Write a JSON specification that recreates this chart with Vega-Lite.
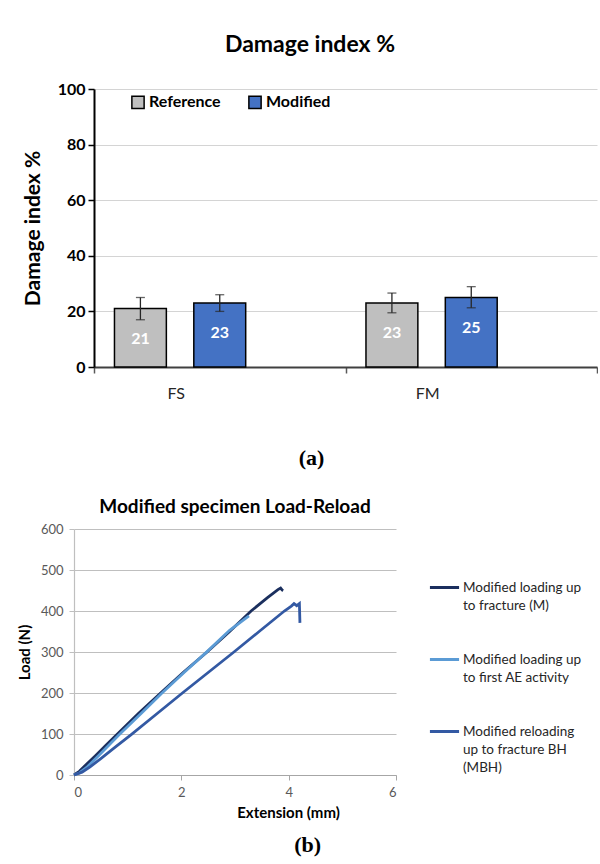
{
  "$schema": "https://vega.github.io/schema/vega-lite/v6.json",
  "background": "white",
  "padding": {"left": 17, "top": 34, "right": 0, "bottom": 4},
  "spacing": 30,
  "columns": 1,
  "title": {"text": "(b)", "orient": "bottom", "anchor": "middle", "font": "Liberation Serif", "fontSize": 22, "fontWeight": "bold", "color": "black", "offset": 15},
  "resolve": {"scale": {"color": "independent"}, "legend": {"color": "independent"}},
  "concat": [
    {
      "width": 523,
      "height": 278,
      "title": {"text": "Damage index %", "font": "Lato", "fontSize": 23, "fontWeight": "bold", "color": "black", "offset": 24, "anchor": "middle", "frame": "bounds"},
      "data": {"values": [
        {"cat": "FS", "series": "Reference", "value": 21, "lo": 17, "hi": 25},
        {"cat": "FS", "series": "Modified", "value": 23, "lo": 20, "hi": 26},
        {"cat": "FM", "series": "Reference", "value": 23, "lo": 19.5, "hi": 26.6},
        {"cat": "FM", "series": "Modified", "value": 25, "lo": 21.3, "hi": 28.9}
      ]},
      "encoding": {
        "x": {"field": "cat", "type": "nominal", "sort": ["FS", "FM"],
              "scale": {"paddingInner": 0, "paddingOuter": 0, "range": [20, 523]},
              "axis": {"title": "(a)", "titleFont": "Liberation Serif", "titleFontSize": 22, "titleFontWeight": "bold", "titleColor": "black", "titlePadding": 46, "titleX": 237,
                       "labelAngle": 0, "labelFont": "Lato", "labelFontSize": 16, "labelColor": "#262626", "labelPadding": 12, "labelOffset": -44,
                       "tickBand": "extent", "tickSize": 6, "tickColor": "#595959", "tickWidth": 1.5,
                       "domainColor": "#404040", "domainWidth": 2}},
        "xOffset": {"field": "series", "type": "nominal", "scale": {"domain": ["Reference", "Modified", "_"], "paddingInner": 0.346, "paddingOuter": 0.258}}
      },
      "layer": [
        {
          "mark": {"type": "bar", "stroke": "black", "strokeWidth": 1.5},
          "encoding": {
            "y": {"field": "value", "type": "quantitative", "scale": {"domain": [0, 100]},
                  "axis": {"offset": -20, "values": [0, 20, 40, 60, 80, 100], "title": "Damage index %", "titleFont": "Lato", "titleFontSize": 21, "titleFontWeight": "bold", "titleColor": "black", "titlePadding": 14,
                           "labelFont": "Lato", "labelFontSize": 16, "labelFontWeight": "bold", "labelColor": "black", "labelPadding": 3,
                           "tickSize": 6, "tickColor": "black", "tickWidth": 1.5, "domainColor": "black", "domainWidth": 2,
                           "grid": true, "gridColor": "#D4D4D4", "gridWidth": 1}},
            "color": {"field": "series", "type": "nominal",
                      "scale": {"domain": ["Reference", "Modified"], "range": ["#BFBFBF", "#4472C4"]},
                      "legend": {"title": null, "orient": "none", "legendX": 56, "legendY": 5, "direction": "horizontal",
                                 "symbolType": "square", "symbolSize": 150, "symbolStrokeColor": "black", "symbolStrokeWidth": 1.5,
                                 "labelFont": "Lato", "labelFontSize": 16, "labelFontWeight": "bold", "labelColor": "black", "labelOffset": 3, "columnPadding": 24}}
          }
        },
        {
          "mark": {"type": "rule", "color": "#262626", "strokeWidth": 1.3},
          "encoding": {
            "y": {"field": "lo", "type": "quantitative"},
            "y2": {"field": "hi"}
          }
        },
        {
          "mark": {"type": "tick", "color": "#262626", "thickness": 1.3, "size": 9},
          "encoding": {"y": {"field": "lo", "type": "quantitative"}}
        },
        {
          "mark": {"type": "tick", "color": "#262626", "thickness": 1.3, "size": 9},
          "encoding": {"y": {"field": "hi", "type": "quantitative"}}
        },
        {
          "mark": {"type": "text", "color": "white", "font": "Lato", "fontSize": 16, "fontWeight": "bold", "baseline": "middle", "dy": 30},
          "encoding": {
            "y": {"field": "value", "type": "quantitative"},
            "text": {"field": "value", "type": "quantitative"}
          }
        }
      ]
    },
    {
      "width": 322,
      "height": 246,
      "title": {"text": "Modified specimen Load-Reload", "font": "Lato", "fontSize": 19, "fontWeight": "bold", "color": "black", "offset": 6, "anchor": "middle"},
      "data": {"values": [
        {"series": "Modified loading up|to fracture (M)", "i": 0, "ext": 0, "load": 0},
        {"series": "Modified loading up|to fracture (M)", "i": 1, "ext": 0.1, "load": 9},
        {"series": "Modified loading up|to fracture (M)", "i": 2, "ext": 0.2, "load": 22},
        {"series": "Modified loading up|to fracture (M)", "i": 3, "ext": 0.4, "load": 47},
        {"series": "Modified loading up|to fracture (M)", "i": 4, "ext": 0.6, "load": 73},
        {"series": "Modified loading up|to fracture (M)", "i": 5, "ext": 0.8, "load": 99},
        {"series": "Modified loading up|to fracture (M)", "i": 6, "ext": 1.2, "load": 150},
        {"series": "Modified loading up|to fracture (M)", "i": 7, "ext": 1.64, "load": 203},
        {"series": "Modified loading up|to fracture (M)", "i": 8, "ext": 2.05, "load": 252},
        {"series": "Modified loading up|to fracture (M)", "i": 9, "ext": 2.48, "load": 300},
        {"series": "Modified loading up|to fracture (M)", "i": 10, "ext": 2.9, "load": 350},
        {"series": "Modified loading up|to fracture (M)", "i": 11, "ext": 3.3, "load": 400},
        {"series": "Modified loading up|to fracture (M)", "i": 12, "ext": 3.6, "load": 432},
        {"series": "Modified loading up|to fracture (M)", "i": 13, "ext": 3.8, "load": 452},
        {"series": "Modified loading up|to fracture (M)", "i": 14, "ext": 3.85, "load": 456},
        {"series": "Modified loading up|to fracture (M)", "i": 15, "ext": 3.88, "load": 451},
        {"series": "Modified loading up|to fracture (M)", "i": 16, "ext": 3.9, "load": 450},
        {"series": "Modified loading up|to first AE activity", "i": 0, "ext": 0, "load": 0},
        {"series": "Modified loading up|to first AE activity", "i": 1, "ext": 0.1, "load": 5},
        {"series": "Modified loading up|to first AE activity", "i": 2, "ext": 0.25, "load": 20},
        {"series": "Modified loading up|to first AE activity", "i": 3, "ext": 0.47, "load": 49},
        {"series": "Modified loading up|to first AE activity", "i": 4, "ext": 0.84, "load": 98},
        {"series": "Modified loading up|to first AE activity", "i": 5, "ext": 1.25, "load": 150},
        {"series": "Modified loading up|to first AE activity", "i": 6, "ext": 1.64, "load": 200},
        {"series": "Modified loading up|to first AE activity", "i": 7, "ext": 2.05, "load": 250},
        {"series": "Modified loading up|to first AE activity", "i": 8, "ext": 2.48, "load": 301},
        {"series": "Modified loading up|to first AE activity", "i": 9, "ext": 2.9, "load": 353},
        {"series": "Modified loading up|to first AE activity", "i": 10, "ext": 3.26, "load": 388},
        {"series": "Modified reloading|up to fracture BH|(MBH)", "i": 0, "ext": 0, "load": 0},
        {"series": "Modified reloading|up to fracture BH|(MBH)", "i": 1, "ext": 0.15, "load": 7},
        {"series": "Modified reloading|up to fracture BH|(MBH)", "i": 2, "ext": 0.3, "load": 20},
        {"series": "Modified reloading|up to fracture BH|(MBH)", "i": 3, "ext": 0.5, "load": 40},
        {"series": "Modified reloading|up to fracture BH|(MBH)", "i": 4, "ext": 0.75, "load": 66},
        {"series": "Modified reloading|up to fracture BH|(MBH)", "i": 5, "ext": 1.06, "load": 98},
        {"series": "Modified reloading|up to fracture BH|(MBH)", "i": 6, "ext": 1.55, "load": 150},
        {"series": "Modified reloading|up to fracture BH|(MBH)", "i": 7, "ext": 2.02, "load": 200},
        {"series": "Modified reloading|up to fracture BH|(MBH)", "i": 8, "ext": 2.5, "load": 250},
        {"series": "Modified reloading|up to fracture BH|(MBH)", "i": 9, "ext": 2.98, "load": 300},
        {"series": "Modified reloading|up to fracture BH|(MBH)", "i": 10, "ext": 3.45, "load": 350},
        {"series": "Modified reloading|up to fracture BH|(MBH)", "i": 11, "ext": 3.92, "load": 400},
        {"series": "Modified reloading|up to fracture BH|(MBH)", "i": 12, "ext": 4.05, "load": 412},
        {"series": "Modified reloading|up to fracture BH|(MBH)", "i": 13, "ext": 4.1, "load": 418},
        {"series": "Modified reloading|up to fracture BH|(MBH)", "i": 14, "ext": 4.15, "load": 413},
        {"series": "Modified reloading|up to fracture BH|(MBH)", "i": 15, "ext": 4.2, "load": 418},
        {"series": "Modified reloading|up to fracture BH|(MBH)", "i": 16, "ext": 4.21, "load": 371}
      ]},
      "mark": {"type": "line", "strokeWidth": 2.8},
      "encoding": {
        "x": {"field": "ext", "type": "quantitative", "scale": {"domain": [0, 6], "nice": false},
              "axis": {"values": [0, 2, 4, 6], "grid": false, "title": "Extension (mm)", "titleFont": "Lato", "titleFontSize": 15, "titleFontWeight": "bold", "titleColor": "black", "titlePadding": 6, "titleX": 214, "titleAlign": "center",
                       "labelFont": "Lato", "labelFontSize": 13, "labelColor": "#595959", "labelPadding": 6,
                       "tickSize": 5, "tickColor": "#A6A6A6", "domainColor": "#A6A6A6", "domainWidth": 1.2}},
        "y": {"field": "load", "type": "quantitative", "scale": {"domain": [0, 600], "nice": false},
              "axis": {"values": [0, 100, 200, 300, 400, 500, 600], "title": "Load (N)", "titleFont": "Lato", "titleFontSize": 15, "titleFontWeight": "bold", "titleColor": "black", "titlePadding": 8,
                       "labelFont": "Lato", "labelFontSize": 13, "labelColor": "#595959", "labelPadding": 6,
                       "tickSize": 5, "tickColor": "#BFBFBF", "domainColor": "#BFBFBF", "domainWidth": 1.2,
                       "grid": true, "gridColor": "#BFBFBF", "gridWidth": 1.2}},
        "color": {"field": "series", "type": "nominal",
                  "scale": {"domain": ["Modified loading up|to fracture (M)", "Modified loading up|to first AE activity", "Modified reloading|up to fracture BH|(MBH)"],
                            "range": ["#1B2F5E", "#5B9BD5", "#3359A3"]},
                  "legend": {"title": null, "orient": "none", "legendX": 354, "legendY": 42, "direction": "vertical",
                             "symbolType": "stroke", "symbolSize": 850, "symbolStrokeWidth": 3,
                             "labelExpr": "split(datum.label, '|')", "labelFont": "Lato", "labelFontSize": 13.5, "labelColor": "#262626",
                             "labelBaseline": "middle", "labelLimit": 220, "labelOffset": 2, "rowPadding": 31}},
        "order": {"field": "i", "type": "quantitative"}
      }
    }
  ],
  "config": {
    "view": {"stroke": null},
    "font": "Lato",
    "style": {"guide-label": {"lineHeight": 18}}
  }
}
